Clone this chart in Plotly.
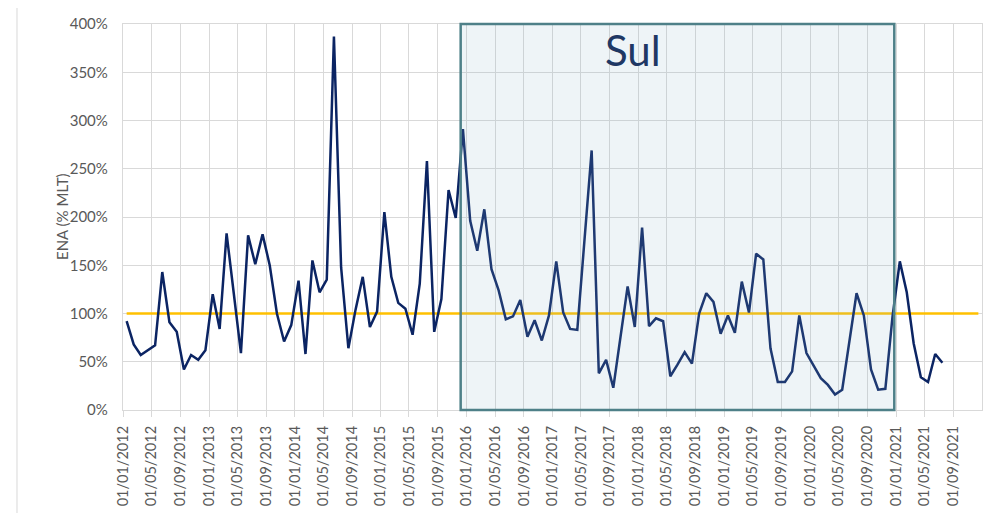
import pandas as pd
import plotly.graph_objects as go

# ENA Sul (% MLT), monthly, Jan 2012 - Jul 2021
ena = [92, 68, 57, 62, 67, 143, 91, 81, 42, 57, 52, 62,
       120, 84, 183, 121, 59, 181, 151, 182, 150, 100, 71, 88,
       134, 58, 155, 122, 135, 387, 148, 64, 104, 138, 86, 102,
       205, 138, 111, 105, 78, 131, 258, 81, 115, 228, 199, 291,
       196, 165, 208, 146, 124, 94, 97, 114, 76, 93, 72, 98,
       154, 101, 84, 83, 176, 269, 38, 52, 23, 76, 128, 86,
       189, 87, 95, 92, 35, 47, 60, 48, 100, 121, 112, 79,
       98, 80, 133, 101, 162, 156, 64, 29, 29, 40, 98, 59,
       45, 33, 26, 16, 21, 70, 121, 98, 42, 21, 22, 97,
       154, 122, 69, 34, 29, 58, 49]
mlt = [100] * 120  # reference MLT line, Jan 2012 - Dec 2021

months_ena = pd.date_range("2012-01-01", periods=len(ena), freq="MS")
months_mlt = pd.date_range("2012-01-01", periods=len(mlt), freq="MS")

tick_dates = pd.date_range("2012-01-01", "2021-09-01", freq="4MS")
y_ticks = list(range(0, 401, 50))
y_labels = [f"{v}%" for v in y_ticks]

highlight_start = "2015-12-07"
highlight_end = "2020-12-24"
highlight_label = "Sul"
y_title = "ENA (% MLT)"

FONT = "Lato"
GRID = "#d9d9d9"
TXT = "#595959"

fig = go.Figure()
fig.add_trace(go.Scatter(
    x=months_mlt, y=mlt, mode="lines", xperiod="M1", xperiodalignment="middle",
    line=dict(color="#FFC000", width=2.5), hoverinfo="skip", showlegend=False))
fig.add_trace(go.Scatter(
    x=months_ena, y=ena, mode="lines", xperiod="M1", xperiodalignment="middle",
    line=dict(color="#0B2463", width=2.5), showlegend=False))

# translucent highlight box over everything
fig.add_shape(type="rect", xref="x", yref="paper", x0=highlight_start, x1=highlight_end,
              y0=0, y1=1, fillcolor="rgba(141,182,202,0.15)", line=dict(width=0),
              layer="above")
fig.add_shape(type="rect", xref="x", yref="paper", x0=highlight_start, x1=highlight_end,
              y0=0, y1=1, fillcolor="rgba(0,0,0,0)", line=dict(color="#4E8088", width=2.5),
              layer="above")
fig.add_annotation(x=0.594, y=0.933, xref="paper", yref="paper", text=highlight_label,
                   xanchor="center", yanchor="middle",
                   showarrow=False, font=dict(family=FONT, size=42, color="#1F3864"))
fig.add_annotation(x=-0.071, y=0.5, xref="paper", yref="paper", text=y_title,
                   textangle=-90, xanchor="center", yanchor="middle", showarrow=False,
                   font=dict(family=FONT, size=15, color=TXT))

# outer chart-area edge at left
fig.add_shape(type="line", xref="paper", yref="paper", x0=-0.1234, x1=-0.1234,
              y0=-0.3, y1=1.1, line=dict(color="#d9d9d9", width=1))

fig.update_xaxes(
    range=["2012-01-01", "2022-01-01"], tickvals=tick_dates, tickformat="%d/%m/%Y",
    tickangle=-90, showgrid=True, gridcolor=GRID, gridwidth=1.3,
    showline=True, linecolor=GRID, linewidth=1.3, mirror=True, automargin=False,
    ticks="outside", ticklen=6, tickcolor=GRID, ticklabelstandoff=3,
    tickfont=dict(family=FONT, size=14.5, color=TXT), zeroline=False)
fig.update_yaxes(
    range=[0, 400], tickvals=y_ticks, ticktext=y_labels,
    showgrid=True, gridcolor=GRID, gridwidth=1.3,
    showline=True, linecolor=GRID, linewidth=1.3, mirror=True, automargin=False,
    ticks="", ticklabelstandoff=11, zeroline=False,
    tickfont=dict(family=FONT, size=15, color=TXT))

# page body adds an 8px offset, so the figure is 993x505 with the plot at (123,24)-(982,410)
fig.update_layout(
    width=993, height=505, autosize=False,
    margin=dict(l=115, r=19, t=16, b=103),
    plot_bgcolor="white", paper_bgcolor="white",
    font=dict(family=FONT, color=TXT))

fig.write_html("out.html")
